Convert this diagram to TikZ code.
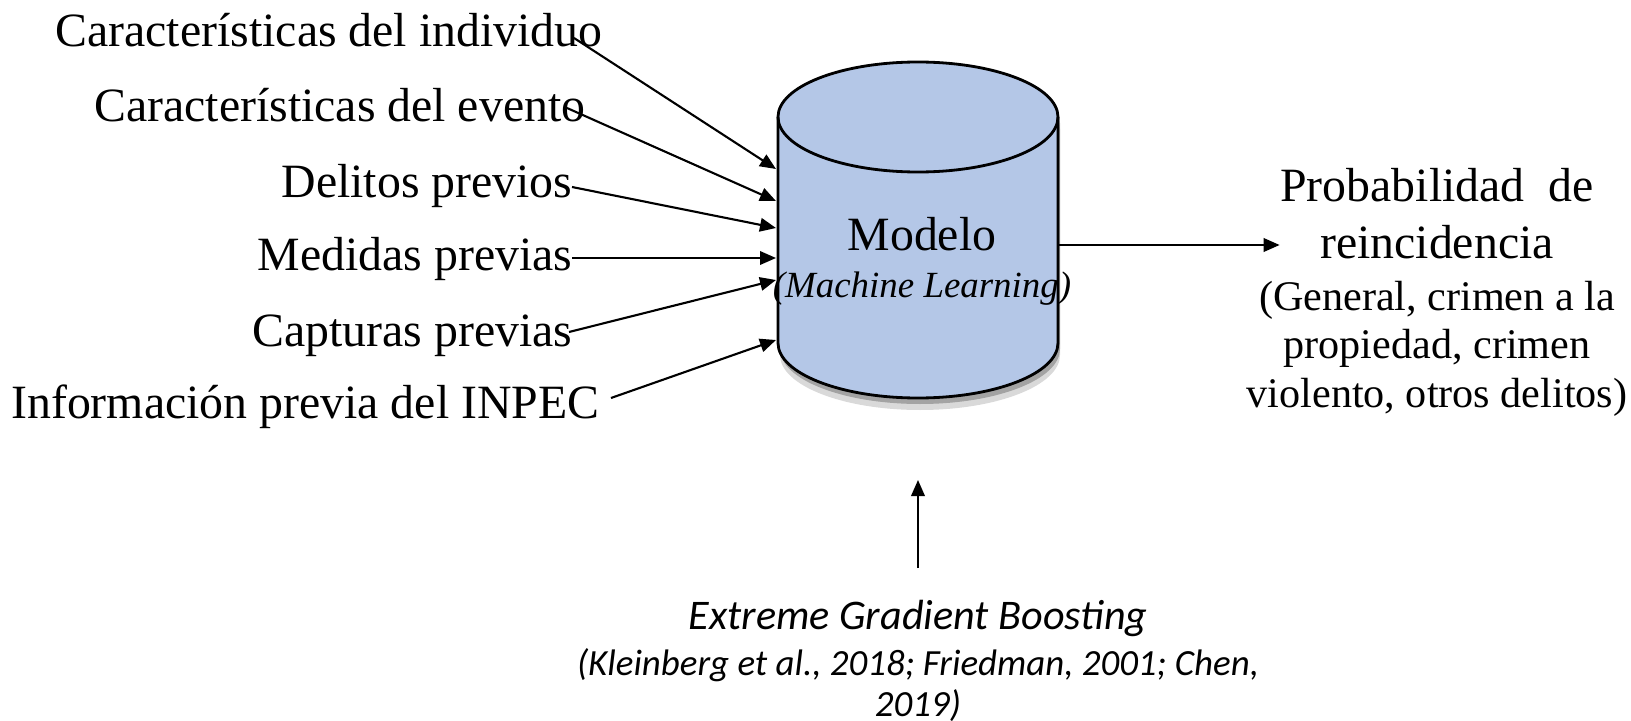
\documentclass[tikz,border=0pt]{standalone}
\usepackage{fontspec}
\setmainfont{Liberation Serif}
\newfontfamily\calibrifont{Carlito}
\usetikzlibrary{arrows.meta}
\usetikzlibrary{shadows}
\definecolor{modelblue}{RGB}{180,199,231}

\begin{document}
\begin{tikzpicture}[
    x=0.1mm, y=-0.1mm,
    >={Triangle[length=1.6mm,width=1.35mm]},
    feature/.style={anchor=base east, inner sep=0pt, font=\fontsize{13.6}{16}\selectfont},
    result/.style={anchor=base, inner sep=0pt, align=center},
    ref/.style={anchor=base, inner sep=0pt, align=center},
    normal line/.style={->, line width=0.6pt}
    ]
\useasboundingbox (0,0) rectangle (1631,721);

% the model (cylinder)
\path[fill=modelblue, draw, line width=0.8pt,
      drop shadow={shadow xshift=0.2mm, shadow yshift=-1.2mm, fill=black, opacity=0.15},
      drop shadow={shadow xshift=0.2mm, shadow yshift=-0.6mm, fill=black, opacity=0.25}]
  (778,117) -- (778,343) arc[start angle=180, end angle=0, x radius=140, y radius=55]
  -- (1058,117) arc[start angle=0, end angle=-180, x radius=140, y radius=55] -- cycle;
\draw[line width=0.8pt] (778,117) arc[start angle=180, end angle=0, x radius=140, y radius=55];
\node[anchor=base, inner sep=0pt, font=\fontsize{13.6}{16}\selectfont] (model) at (922,250) {Modelo};
\node[anchor=base, inner sep=0pt, font=\fontsize{10.5}{13}\selectfont\itshape] (ml) at (922,298) {(Machine Learning)};

% inputs
\node[feature] (f1) at (603,46) {Características del individuo};
\node[feature] (f2) at (586,121) {Características del evento};
\node[feature] (f3) at (573,197) {Delitos previos};
\node[feature] (f4) at (573,270) {Medidas previas};
\node[feature] (f5) at (573,346) {Capturas previas};
\node[feature] (f6) at (600,418) {Información previa del INPEC};
\coordinate (in1) at (776,169);
\coordinate (in2) at (776,201);
\coordinate (in3) at (776,228);
\coordinate (in4) at (776,258);
\coordinate (in5) at (776,280);
\coordinate (in6) at (776,340);
\draw[normal line] ([shift={(-29,-8)}]f1.base east) -- (in1);
\draw[normal line] ([shift={(-19,-13)}]f2.base east) -- (in2);
\draw[normal line] ([shift={(-1,-10)}]f3.base east) -- (in3);
\draw[normal line] ([shift={(-1,-12)}]f4.base east) -- (in4);
\draw[normal line] ([shift={(-4,-14)}]f5.base east) -- (in5);
\draw[normal line] ([shift={(11,-20)}]f6.base east) -- (in6);

% output
\node[result, font=\fontsize{13.6}{16.2}\selectfont] (prob) at (1437,258) {Probabilidad\ \ de\\reincidencia};
\node[result, font=\fontsize{12}{13.7}\selectfont] (kinds) at (1437,407) {(General, crimen a la\\propiedad, crimen\\violento, otros delitos)};
\coordinate (out) at (1058,245);
\draw[normal line] (out) -- (out -| prob.west);

% method
\node[ref, font=\calibrifont\itshape\fontsize{12}{14}\selectfont] (xgb) at (918,629) {Extreme Gradient Boosting};
\node[ref, font=\calibrifont\itshape\fontsize{10.5}{11.6}\selectfont] (cites) at (918,716) {(Kleinberg et al., 2018; Friedman, 2001; Chen,\\2019)};
\coordinate (base) at (918,480);
\draw[normal line] ([yshift=3.1mm]xgb.north) -- (base);
\end{tikzpicture}
\end{document}
